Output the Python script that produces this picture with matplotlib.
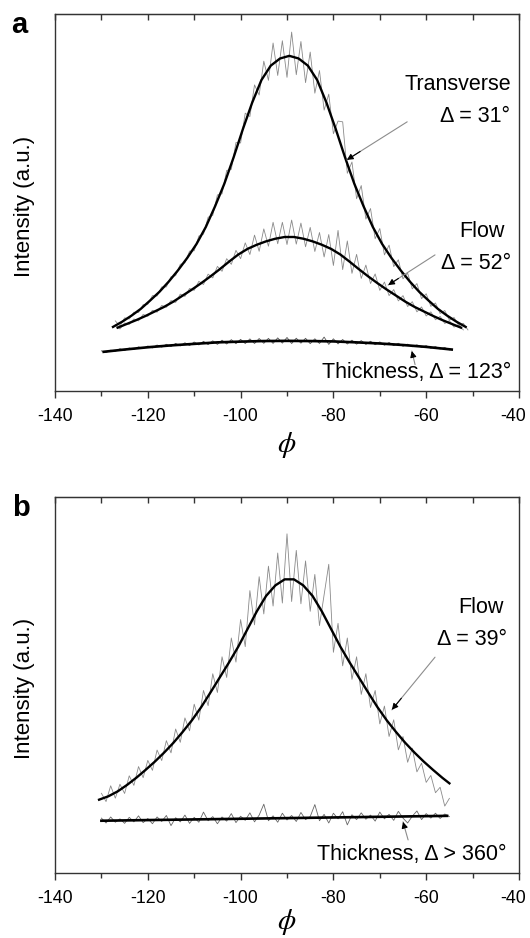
import numpy as np
import matplotlib
matplotlib.use("Agg")
import matplotlib.pyplot as plt
import matplotlib.transforms as mtransforms
from matplotlib.ticker import MultipleLocator, NullFormatter

plt.rcParams['font.family'] = ['Liberation Sans', 'DejaVu Sans']
plt.rcParams['mathtext.fontset'] = 'stix'
plt.rcParams['axes.unicode_minus'] = False

# ---------------- data ----------------
# panel a, measured (noisy) traces, 1 degree sampling
a_trans_x = list(range(-127, -50))
a_trans_noisy = [18.6, 17.2, 19.4, 19.1, 20.9, 20.8, 22.9, 23.0, 25.3, 25.2,
                 27.6, 27.6, 30.3, 30.6, 33.6, 34.0, 37.1, 37.2, 41.1, 41.6,
                 46.1, 46.6, 52.0, 52.3, 58.5, 58.8, 65.9, 65.8, 73.7, 72.8,
                 81.2, 78.5, 87.5, 82.4, 92.3, 83.7, 92.9, 83.2, 95.2, 83.9,
                 92.7, 81.8, 89.9, 79.0, 85.0, 74.5, 78.75, 68.25, 71.6, 71.4,
                 57.75, 60.75, 51.0, 54.5, 45.6, 48.4, 40.4, 43.1, 36.1, 38.7,
                 33.0, 34.8, 29.75, 31.25, 27.1, 28.5, 24.5, 25.8, 22.45, 23.35,
                 20.55, 21.35, 18.8, 19.5, 17.35, 17.95, 16.2]

a_flow_x = list(range(-127, -51))
a_flow_noisy = [17.5, 16.45, 18.05, 17.65, 19.1, 18.6, 20.3, 19.8, 21.4, 20.9,
                22.7, 22.2, 24.0, 23.5, 25.7, 25.1, 27.2, 26.7, 29.1, 28.25,
                31.0, 30.0, 33.05, 31.75, 35.1, 33.6, 37.3, 35.1, 39.3, 36.2,
                41.35, 37.05, 43.0, 38.4, 44.75, 39.05, 44.75, 38.85, 45.35, 38.95,
                44.55, 38.25, 43.4, 37.0, 42.05, 35.55, 41.5, 33.3, 42.6, 32.2,
                39.8, 31.2, 36.25, 29.85, 33.4, 28.5, 31.05, 26.7, 28.9, 25.3,
                26.9, 23.9, 25.3, 22.4, 23.7, 21.0, 22.3, 19.9, 21.0, 18.9,
                19.8, 17.9, 18.65, 16.95, 17.55, 16.2]

a_thick_x = list(range(-130, -54))
a_thick_noisy = [10.65, 10.2, 10.83, 10.52, 11.2, 10.73, 11.41, 10.98, 11.7, 11.26,
                 11.93, 11.43, 12.19, 11.64, 12.39, 11.78, 12.62, 11.96, 12.79, 12.07,
                 12.99, 12.22, 13.18, 12.3, 13.31, 12.37, 13.47, 12.47, 13.62, 12.56,
                 13.7, 12.59, 13.82, 12.6, 13.92, 12.65, 13.96, 12.63, 14.09, 12.7,
                 14.2, 12.6, 14.0, 12.69, 13.98, 12.56, 13.85, 12.62, 14.3, 12.37,
                 13.84, 12.5, 13.66, 12.47, 13.47, 12.42, 13.37, 12.36, 13.2, 12.28,
                 13.02, 12.14, 12.87, 12.04, 12.66, 11.87, 12.43, 11.74, 12.24, 11.54,
                 12.03, 11.33, 11.76, 11.15, 11.53, 10.91]

# panel a, fitted curves
a_trans_fit_x = [-127.5, -125.5, -123.5, -121.5, -119.5, -117.5, -115.5, -113.5, -111.5, -109.5,
                 -107.5, -105.5, -103.5, -101.5, -99.5, -97.5, -95.5, -93.5, -91.5, -89.5,
                 -87.5, -85.5, -83.5, -81.5, -79.5, -77.5, -75.5, -73.5, -71.5, -69.5,
                 -67.5, -65.5, -63.5, -61.5, -59.5, -57.5, -55.5, -53.5, -51.5]
a_trans_fit_y = [17, 18.4, 20, 21.8, 24, 26.3, 29, 32, 35.3, 39,
                 43.5, 49, 55, 62, 69.5, 76.5, 82.5, 86.3, 88.2, 88.9,
                 88.2, 86.3, 82.5, 76.5, 69.5, 62, 55, 49, 43.5, 39,
                 35.3, 32, 29, 26.3, 24, 21.8, 20, 18.4, 17]

a_flow_fit_x = [-126.5, -124.5, -122.5, -120.5, -118.5, -116.5, -114.5, -112.5, -110.5, -108.5,
                -106.5, -104.5, -102.5, -100.5, -98.5, -96.5, -94.5, -92.5, -90.5, -88.5,
                -86.5, -84.5, -82.5, -80.5, -78.5, -76.5, -74.5, -72.5, -70.5, -68.5,
                -66.5, -64.5, -62.5, -60.5, -58.5, -56.5, -54.5, -52.5]
a_flow_fit_y = [16.8, 17.8, 18.8, 19.9, 21.1, 22.3, 23.7, 25.3, 26.9, 28.6,
                30.4, 32.3, 34.3, 36.2, 37.7, 38.8, 39.7, 40.4, 40.85, 40.85,
                40.4, 39.7, 38.8, 37.7, 36.2, 34.3, 32.3, 30.4, 28.6, 26.9,
                25.3, 23.7, 22.3, 21.1, 19.9, 18.8, 17.8, 16.8]

a_thick_fit_x = [-129.5, -125, -120, -115, -110, -105, -100, -95, -90, -85, -80, -75, -70, -65, -60, -54.5]
a_thick_fit_y = [10.4, 11.0, 11.6, 12.1, 12.5, 12.9, 13.1, 13.25, 13.3, 13.25, 13.15, 12.9, 12.6, 12.2, 11.7, 11.0]

# panel b, measured traces
b_flow_x = list(range(-130, -54))
b_flow_noisy = [21.2, 19.0, 23.2, 19.9, 23.6, 21.15, 25.85, 23.3, 28.3, 25.35,
                29.95, 27.3, 32.7, 29.9, 35.2, 31.95, 38.3, 34.75, 41.25, 37.8,
                44.9, 40.65, 48.55, 44.5, 53.0, 48.0, 57.5, 52.0, 62.5, 56.1,
                67.4, 60.2, 75.1, 66.0, 78.8, 68.9, 81.6, 71.0, 85.1, 71.8,
                90.2, 72.2, 85.8, 71.6, 83.0, 69.6, 79.4, 65.8, 74.0, 82.1,
                58.7, 66.4, 55.1, 62.5, 51.5, 57.5, 47.5, 53.0, 44.0, 48.55,
                39.65, 44.4, 36.3, 40.75, 32.75, 36.3, 29.45, 33.2, 26.9, 29.2,
                24.1, 25.95, 21.35, 22.8, 17.8, 19.85]

b_thick_x = list(range(-130, -54))
b_thick_noisy = [14.6, 13.3, 14.9, 13.5, 14.4, 13.2, 14.8, 13.6, 15.2, 13.4,
                 14.5, 13.1, 14.9, 13.7, 15.3, 12.6, 14.7, 13.6, 15.4, 13.2,
                 14.8, 13.5, 16.2, 13.9, 15.0, 13.1, 14.9, 13.8, 15.8, 13.4,
                 15.1, 14.0, 16.0, 13.6, 15.4, 18.3, 13.9, 15.2, 13.5, 15.9,
                 14.1, 15.3, 13.7, 16.1, 14.2, 15.0, 18.2, 13.9, 15.6, 13.3,
                 15.9, 14.4, 16.3, 12.8, 15.5, 14.2, 16.0, 14.3, 15.4, 13.8,
                 16.2, 14.4, 15.6, 14.0, 16.4, 14.6, 13.3, 15.1, 16.5, 14.2,
                 15.8, 14.6, 15.9, 14.5, 15.7, 15.0]

# panel b, fitted curves
b_flow_fit_x = [-130.5, -128.5, -126.5, -124.5, -122.5, -120.5, -118.5, -116.5, -114.5, -112.5,
                -110.5, -108.5, -106.5, -104.5, -102.5, -100.5, -98.5, -96.5, -94.5, -92.5,
                -90.5, -88.5, -86.5, -84.5, -82.5, -80.5, -78.5, -76.5, -74.5, -72.5,
                -70.5, -68.5, -66.5, -64.5, -62.5, -60.5, -58.5, -56.5, -55]
b_flow_fit_y = [19.5, 20.4, 21.7, 23.4, 25.3, 27.4, 29.6, 32, 34.6, 37.5,
                40.6, 44.1, 48, 52, 56, 60.2, 64.9, 69.6, 73.7, 76.5,
                78.1, 78.1, 76.5, 73.7, 69.6, 64.9, 60.2, 56, 52, 48,
                44.1, 40.6, 37.5, 34.6, 32, 29.6, 27.4, 25.3, 23.85]

b_thick_fit_x = [-130, -55.5]
b_thick_fit_y = [13.9, 15.2]

# annotation texts
a_labels = ["Transverse", "\u0394 = 31\u00b0", "Flow", "\u0394 = 52\u00b0", "Thickness, \u0394 = 123\u00b0"]
b_labels = ["Flow", "\u0394 = 39\u00b0", "Thickness, \u0394 > 360\u00b0"]
xticks = [-140, -120, -100, -80, -60, -40]

# ---------------- figure ----------------
W, H = 530, 938
fig = plt.figure(figsize=(W / 100, H / 100), dpi=100)
ax_a = fig.add_axes([55 / W, 1 - 391 / H, 464 / W, 377 / H])
ax_b = fig.add_axes([55 / W, 1 - 873 / H, 464 / W, 376 / H])

NOISE_C = '#8a8a8a'
FIT_C = '#000000'
SPINE_C = '#333333'


def style_axes(ax, xlab_y):
    ax.set_xlim(-140, -40)
    ax.set_ylim(0, 100)
    ax.set_yticks([])
    ax.set_xticks(xticks)
    ax.xaxis.set_minor_locator(MultipleLocator(10))
    ax.tick_params(axis='x', which='major', direction='out', length=5, width=1,
                   color=SPINE_C, labelsize=12.8, pad=7)
    ax.tick_params(axis='x', which='minor', direction='out', length=3.5, width=1,
                   color=SPINE_C)
    for s in ax.spines.values():
        s.set_color(SPINE_C)
        s.set_linewidth(1.0)
    top = ax.secondary_xaxis('top')
    top.set_xticks(xticks)
    top.xaxis.set_minor_locator(MultipleLocator(10))
    top.tick_params(axis='x', which='both', direction='in', length=4, width=1,
                    color=SPINE_C, labeltop=False)
    top.xaxis.set_major_formatter(NullFormatter())
    top.spines['top'].set_color(SPINE_C)
    # keep the last tick label inside the picture
    fig.canvas.draw()
    labs = ax.get_xticklabels()
    shift = mtransforms.ScaledTranslation(-4 / 72, 0, fig.dpi_scale_trans)
    labs[-1].set_transform(labs[-1].get_transform() + shift)
    ax.text(0.5, xlab_y, r'$\phi$', transform=ax.transAxes, ha='center', va='center',
            fontsize=21)
    ax.text(-0.065, 0.49, 'Intensity (a.u.)', transform=ax.transAxes, rotation=90,
            ha='center', va='center', fontsize=16)


def arrow(ax, tail, head):
    ax.annotate('', xy=head, xytext=tail,
                arrowprops=dict(arrowstyle='-', color='#8c8c8c', lw=0.8,
                                shrinkA=0, shrinkB=0))
    tip_tail = (head[0] + 0.22 * (tail[0] - head[0]), head[1] + 0.22 * (tail[1] - head[1]))
    ax.annotate('', xy=head, xytext=tip_tail,
                arrowprops=dict(arrowstyle='-|>', color='black', lw=0.8,
                                mutation_scale=9, shrinkA=0, shrinkB=0))


# panel a
ax_a.plot(a_trans_x, a_trans_noisy, color=NOISE_C, lw=0.6, zorder=2)
ax_a.plot(a_flow_x, a_flow_noisy, color=NOISE_C, lw=0.6, zorder=2)
ax_a.plot(a_thick_x, a_thick_noisy, color='#555555', lw=0.6, zorder=2)
ax_a.plot(a_trans_fit_x, a_trans_fit_y, color=FIT_C, lw=1.7, zorder=3)
ax_a.plot(a_flow_fit_x, a_flow_fit_y, color=FIT_C, lw=1.7, zorder=3)
ax_a.plot(a_thick_fit_x, a_thick_fit_y, color=FIT_C, lw=1.9, zorder=3)
style_axes(ax_a, -0.143)

fs = 15.5
ax_a.text(-41.7, 81.4, a_labels[0], ha='right', va='center', fontsize=fs)
ax_a.text(-41.9, 72.7, a_labels[1], ha='right', va='center', fontsize=fs)
ax_a.text(-43.0, 42.2, a_labels[2], ha='right', va='center', fontsize=fs)
ax_a.text(-41.7, 33.7, a_labels[3], ha='right', va='center', fontsize=fs)
ax_a.text(-41.7, 5.0, a_labels[4], ha='right', va='center', fontsize=fs)
arrow(ax_a, (-64.1, 71.4), (-77.1, 61.3))
arrow(ax_a, (-58.1, 36.1), (-68.2, 28.1))
arrow(ax_a, (-62.4, 7.0), (-63.1, 10.6))

# panel b
ax_b.plot(b_flow_x, b_flow_noisy, color=NOISE_C, lw=0.6, zorder=2)
ax_b.plot(b_thick_x, b_thick_noisy, color='#666666', lw=0.6, zorder=2)
ax_b.plot(b_flow_fit_x, b_flow_fit_y, color=FIT_C, lw=1.7, zorder=3)
ax_b.plot(b_thick_fit_x, b_thick_fit_y, color=FIT_C, lw=1.9, zorder=3)
style_axes(ax_b, -0.13)

ax_b.text(-43.4, 70.5, b_labels[0], ha='right', va='center', fontsize=fs)
ax_b.text(-42.6, 62.0, b_labels[1], ha='right', va='center', fontsize=fs)
ax_b.text(-42.6, 4.8, b_labels[2], ha='right', va='center', fontsize=fs)
arrow(ax_b, (-58.1, 57.4), (-67.4, 43.4))
arrow(ax_b, (-63.9, 8.8), (-65.0, 13.6))

fig.text(19 / W, 1 - 25 / H, 'a', fontsize=21, fontweight='bold', ha='center', va='center')
fig.text(21 / W, 1 - 508 / H, 'b', fontsize=21, fontweight='bold', ha='center', va='center')

fig.savefig('out.png', dpi=100)
